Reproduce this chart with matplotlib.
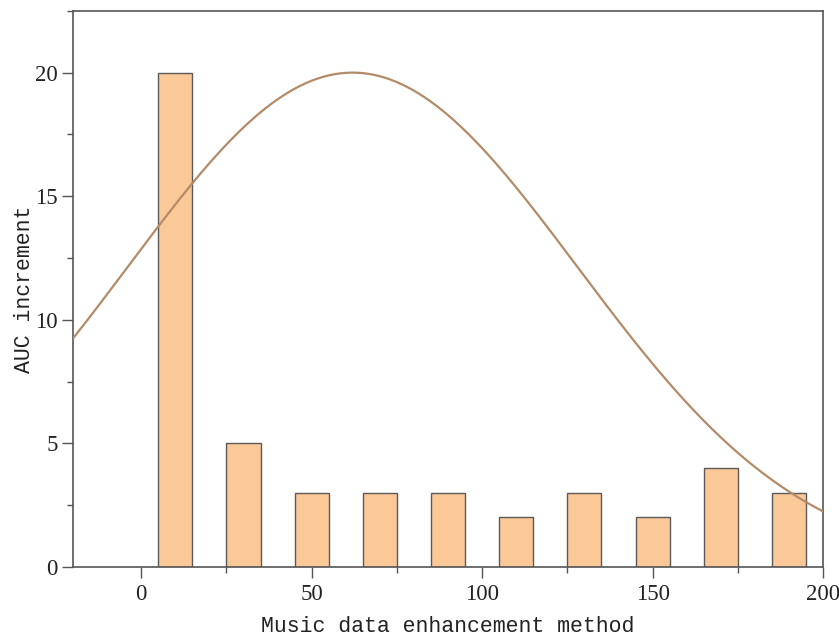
import numpy as np
import matplotlib.pyplot as plt
from matplotlib.ticker import MultipleLocator

# Histogram bins (centres) and counts
bin_centers = [10, 30, 50, 70, 90, 110, 130, 150, 170, 190]
auc_increment = [20, 5, 3, 3, 3, 2, 3, 2, 4, 3]
bin_width = 10

# Fitted normal curve parameters
curve_peak = 20.0
curve_mean = 62.0
curve_sigma = 66.0

fig = plt.figure(figsize=(8.39, 6.37), dpi=100)
ax = fig.add_axes([0.087, 0.110, 0.894, 0.873])

label_font = 'Liberation Mono'
tick_font = 'Liberation Serif'

ax.bar(bin_centers, auc_increment, width=bin_width, color='#FBC898',
       edgecolor='#5a5a5a', linewidth=1.0, zorder=2)

xs = np.linspace(-20, 200, 400)
ys = curve_peak * np.exp(-(xs - curve_mean) ** 2 / (2 * curve_sigma ** 2))
ax.plot(xs, ys, color='#B38B68', linewidth=1.6, zorder=3)

ax.set_xlim(-20, 200)
ax.set_ylim(0, 22.5)

ax.xaxis.set_major_locator(MultipleLocator(50))
ax.xaxis.set_minor_locator(MultipleLocator(25))
ax.yaxis.set_major_locator(MultipleLocator(5))
ax.yaxis.set_minor_locator(MultipleLocator(2.5))
ax.tick_params(which='major', direction='out', length=8, width=1.0,
               color='#555555', labelsize=16.5, pad=3)
ax.tick_params(axis='x', which='major', pad=4)
ax.tick_params(which='minor', direction='out', length=4, width=1.0,
               color='#555555')

for lab in ax.get_xticklabels() + ax.get_yticklabels():
    lab.set_fontfamily(tick_font)
    lab.set_color('#222222')

for sp in ax.spines.values():
    sp.set_color('#555555')
    sp.set_linewidth(1.2)

ax.set_xlabel('Music data enhancement method', fontfamily=label_font,
              fontsize=15.5, color='#222222')
ax.set_ylabel('AUC increment', fontfamily=label_font, fontsize=15.5,
              color='#222222')
ax.xaxis.set_label_coords(0.5, -0.108)
ax.xaxis.label.set_verticalalignment('center')
ax.yaxis.set_label_coords(-0.065, 0.5)
ax.yaxis.label.set_verticalalignment('center')

fig.savefig('out.png', dpi=100, facecolor='white')
